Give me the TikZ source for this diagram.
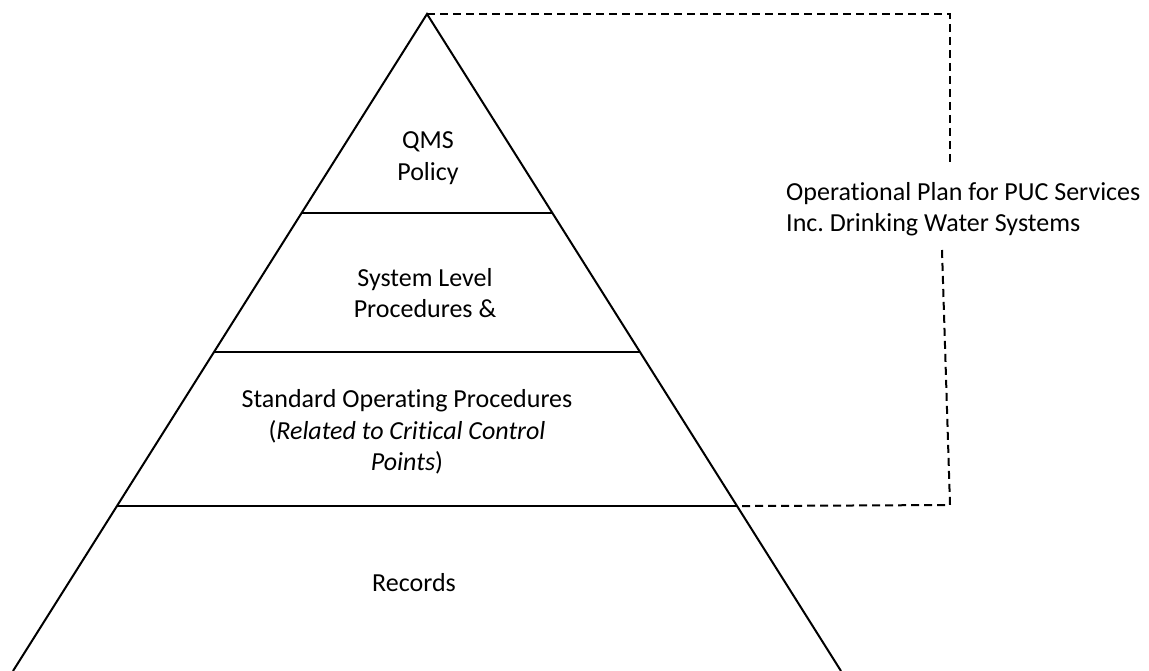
\documentclass[tikz,border=0pt]{standalone}
\usepackage{fontspec}
\setmainfont{Carlito}[RawFeature={-liga}]
\usetikzlibrary{calc}
\frenchspacing
\begin{document}
\begin{tikzpicture}[x=1pt,y=-1pt,
  edge/.style={line width=2pt,black},
  dashline/.style={line width=2pt,black,dash pattern=on 8pt off 5pt},
  lbl/.style={align=center,inner sep=0pt,font=\fontsize{26}{31.5}\selectfont}]
\useasboundingbox (0,0) rectangle (1149,671);
\coordinate (apex) at (427,14);
\coordinate (bl) at (13,671);
\coordinate (br) at (841,671);
\draw[edge] (bl) -- (apex) -- (br);
\coordinate (l1) at ($(apex)!0.303!(bl)$);
\coordinate (r1) at ($(apex)!0.303!(br)$);
\coordinate (l2) at ($(apex)!0.515!(bl)$);
\coordinate (r2) at ($(apex)!0.515!(br)$);
\coordinate (l3) at ($(apex)!0.749!(bl)$);
\coordinate (r3) at ($(apex)!0.749!(br)$);
\draw[edge] (l1) -- (r1);
\draw[edge] (l2) -- (r2);
\draw[edge] (l3) -- (r3);
\node[lbl] (qms) at (428,158) {QMS\\Policy};
\node[lbl] (sys) at (425,293) {System Level\\Procedures \&};
\node[lbl] (sop) at (407,432) {Standard Operating Procedures\\(\textit{Related to Critical Control}\\\textit{Points})};
\node[lbl] (rec) at (414,583) {Records};
\node[lbl,align=left,anchor=west] (plan) at (786,209) {Operational Plan for PUC Services\\Inc. Drinking Water Systems};
\coordinate (c1) at (950,14);
\coordinate (c2) at (950,163);
\coordinate (c3) at (942,250);
\coordinate (c4) at (950,505);
\draw[dashline] (apex) -- (c1) -- (c2);
\draw[dashline] (c3) -- (c4) -- (r3);
\end{tikzpicture}
\end{document}
